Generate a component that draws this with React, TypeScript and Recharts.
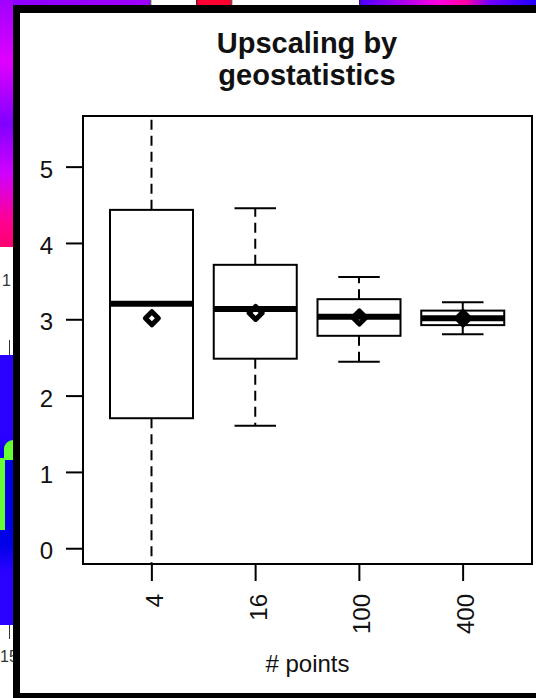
import { Bar, ComposedChart, Scatter, XAxis, YAxis } from "recharts";

// boxplot statistics per sample size
const counts = ["4", "16", "100", "400"];
const whiskerLow = [-0.5, 1.61, 2.45, 2.81];
const quartile1 = [1.71, 2.49, 2.79, 2.93];
const medians = [3.21, 3.14, 3.04, 3.02];
const quartile3 = [4.44, 3.72, 3.27, 3.12];
const whiskerHigh = [6.5, 4.46, 3.56, 3.23];
const means = [3.02, 3.09, 3.03, 3.02];
const yTicks = [0, 1, 2, 3, 4, 5];

const data = counts.map((n, i) => ({
    n,
    lower: [whiskerLow[i], quartile1[i]],
    box: [quartile1[i], quartile3[i]],
    upper: [quartile3[i], whiskerHigh[i]],
    median: medians[i],
    mean: means[i],
}));

const BOX_W = 83;
const font = "'Liberation Sans', Arial, Helvetica, sans-serif";
const ink = "#111";

const span = (p: any) => {
    const top = Math.min(p.y, p.y + p.height);
    const bottom = Math.max(p.y, p.y + p.height);
    return { cx: p.x + p.width / 2, top, bottom, w: p.width };
};

const UpperWhisker = (p: any) => {
    const { cx, top, bottom, w } = span(p);
    return <g>
        <line x1={cx} y1={bottom} x2={cx} y2={top} stroke="#000" strokeWidth={2} strokeDasharray="10 6" />
        <line x1={cx - w / 4} y1={top} x2={cx + w / 4} y2={top} stroke="#000" strokeWidth={2} />
    </g>;
};

const LowerWhisker = (p: any) => {
    const { cx, top, bottom, w } = span(p);
    return <g>
        <line x1={cx} y1={top} x2={cx} y2={bottom} stroke="#000" strokeWidth={2} strokeDasharray="10 6" />
        <line x1={cx - w / 4} y1={bottom} x2={cx + w / 4} y2={bottom} stroke="#000" strokeWidth={2} />
    </g>;
};

const BoxShape = (p: any) => {
    const { top, bottom } = span(p);
    return <rect x={p.x} y={top} width={p.width} height={bottom - top} fill="#fff" stroke="#000" strokeWidth={2} />;
};

const MedianShape = ({ cx, cy }: any) =>
    <line x1={cx - BOX_W / 2} y1={cy} x2={cx + BOX_W / 2} y2={cy} stroke="#000" strokeWidth={6} />;

const MeanShape = ({ cx, cy }: any) => {
    const r = 6.5;
    return <path d={`M${cx},${cy - r}L${cx + r},${cy}L${cx},${cy + r}L${cx - r},${cy}Z`}
        fill="#fff" stroke="#000" strokeWidth={5} strokeLinejoin="round" />;
};

const XTick = ({ x, y, payload }: any) =>
    <g transform={`translate(${x},${y}) rotate(-90)`}>
        <text x={-13} y={2.5} textAnchor="end" dominantBaseline="central" fontSize={24} fontFamily={font} fill={ink}>
            {payload.value}
        </text>
    </g>;

const YTick = ({ x, y, payload }: any) =>
    <text x={x} y={y + 2} textAnchor="end" dominantBaseline="central" fontSize={24} fontFamily={font} fill={ink}>
        {payload.value}
    </text>;

const abs = (s: React.CSSProperties): React.CSSProperties => ({ position: "absolute", ...s });

export default function App() {
    return (
        <div style={abs({ left: 0, top: 0, width: 536, height: 698, background: "#fff", overflow: "hidden" })}>
            {/* pieces of the window underneath */}
            <div style={abs({
                left: 0, top: 0, width: 536, height: 5,
                background: "linear-gradient(to right, #8a00ff 0px, #a000ff 150px, #222 150px, #fff 152px, #fff 196px, #222 196px, #ff0030 198px, #ff0030 231px, #222 231px, #fff 233px, #fff 359px, #222 359px, #5000ff 361px, #ff00e0 440px, #ff00a0 465px, #7000ff 490px, #2000ff 536px)"
            })} />
            <div style={abs({
                left: 0, top: 0, width: 13, height: 247,
                background: "linear-gradient(to bottom, #a000ff, #e000ff 25%, #8000ff 50%, #d000ff 70%, #ff0090 90%, #ff0070)"
            })} />
            <div style={abs({ left: 2, top: 272, fontSize: 16, fontFamily: font, color: "#333" })}>1</div>
            <div style={abs({ left: 9, top: 340, width: 1, height: 15, background: "#333" })} />
            <div style={abs({
                left: 0, top: 355, width: 13, height: 270,
                background: "linear-gradient(to bottom, #2a00ff, #2a00ff 30%, #0000e8 40%, #0000e8 70%, #2a00ff 80%, #2a00ff)"
            })} />
            <div style={abs({ left: 0, top: 458, width: 5, height: 72, background: "#66ff33" })} />
            <div style={abs({ left: 4, top: 440, width: 9, height: 20, background: "#66ff33", borderTopLeftRadius: 9 })} />
            <div style={abs({ left: 9, top: 625, width: 1, height: 14, background: "#333" })} />
            <div style={abs({ left: 0, top: 648, fontSize: 16, fontFamily: font, color: "#333" })}>15</div>

            {/* black window frame */}
            <div style={abs({ left: 13, top: 5, width: 523, height: 8, background: "#000" })} />
            <div style={abs({ left: 13, top: 5, width: 7, height: 693, background: "#000" })} />
            <div style={abs({ left: 13, top: 693, width: 523, height: 5, background: "#000" })} />

            <div style={abs({
                left: 107, top: 27, width: 400, textAlign: "center", fontFamily: font,
                fontWeight: "bold", fontSize: 29, lineHeight: "32px", color: ink
            })}>
                Upscaling by<br />geostatistics
            </div>

            <div style={abs({ left: 0, top: 0 })}>
                <ComposedChart width={536} height={698} data={data} barGap={-BOX_W}
                    margin={{ top: 116, right: 4, bottom: 24, left: 0 }}>
                    <XAxis dataKey="n" type="category" padding={{ left: 17, right: 17 }}
                        height={110} tickSize={17} tickMargin={0} tick={<XTick />}
                        tickLine={{ stroke: "#000", strokeWidth: 2 }} axisLine={{ stroke: "#000", strokeWidth: 2 }}
                        label={{ value: "# points", position: "insideBottom", offset: 2, fontSize: 24, fontFamily: font, fill: ink }} />
                    <YAxis type="number" domain={[-0.2, 5.67]} allowDataOverflow ticks={yTicks} interval={0}
                        width={83} tickSize={17} tickMargin={13} tick={<YTick />}
                        tickLine={{ stroke: "#000", strokeWidth: 2 }} axisLine={{ stroke: "#000", strokeWidth: 2 }} />
                    <Bar dataKey="upper" barSize={BOX_W} shape={<UpperWhisker />} isAnimationActive={false} />
                    <Bar dataKey="lower" barSize={BOX_W} shape={<LowerWhisker />} isAnimationActive={false} />
                    <Bar dataKey="box" barSize={BOX_W} shape={<BoxShape />} isAnimationActive={false} />
                    <Scatter dataKey="mean" shape={<MeanShape />} isAnimationActive={false} />
                    <Scatter dataKey="median" shape={<MedianShape />} isAnimationActive={false} />
                </ComposedChart>
            </div>

            {/* plot frame (box around the panel) */}
            <div style={abs({
                left: 82, top: 115, width: 451, height: 450, boxSizing: "border-box",
                border: "2px solid #000", pointerEvents: "none"
            })} />
        </div>
    );
}
